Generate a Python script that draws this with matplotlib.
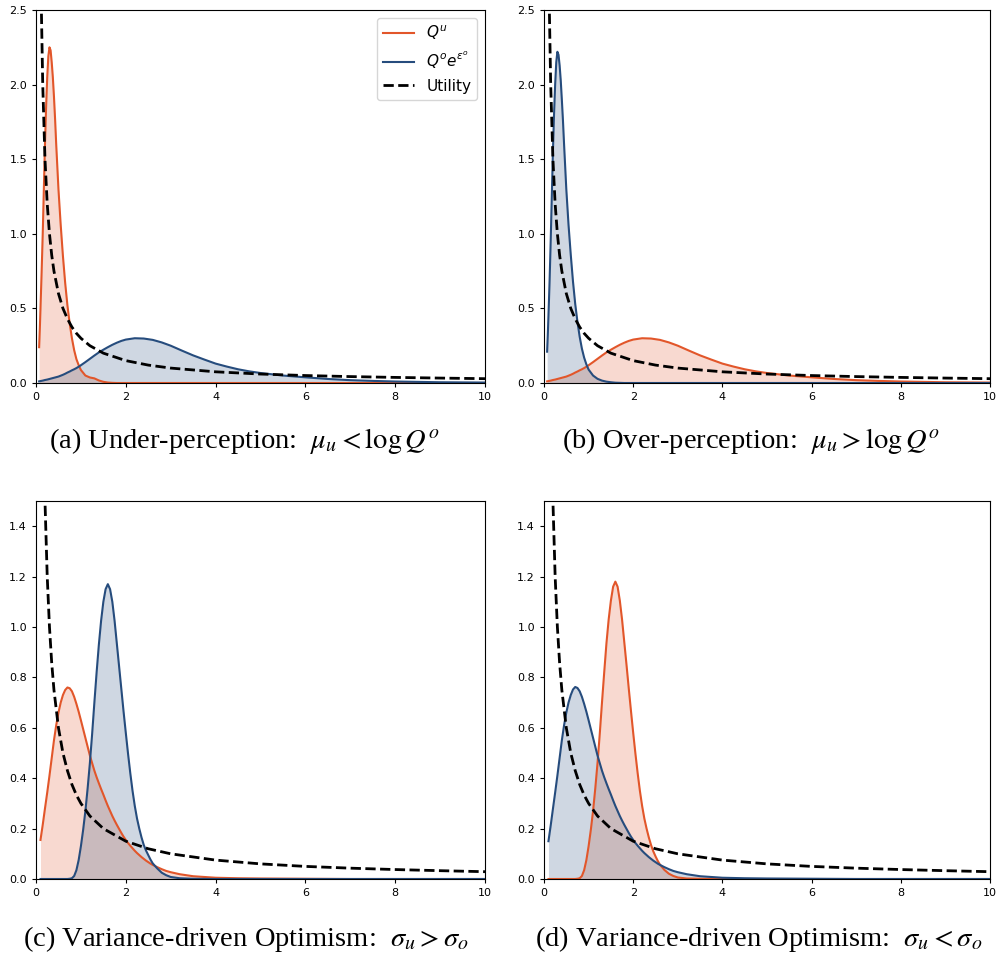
import matplotlib
matplotlib.use("Agg")
import matplotlib.pyplot as plt

# ---------------- data ----------------
x_top = [0.07, 0.085, 0.1, 0.125, 0.15, 0.175, 0.2, 0.225, 0.25, 0.275, 0.3, 0.325,
         0.35, 0.375, 0.4, 0.425, 0.45, 0.5, 0.55, 0.6, 0.65, 0.7, 0.75, 0.8, 0.85,
         0.9, 0.95, 1.0,
         1.1, 1.2, 1.3, 1.4, 1.5, 1.6, 1.7, 1.8, 1.9, 2.0,
         2.2, 2.4, 2.6, 2.8, 3.0,
         3.25, 3.5, 3.75, 4.0, 4.25, 4.5, 4.75, 5.0,
         5.5, 6.0, 6.5, 7.0, 7.5, 8.0, 9.0, 10.0]

a_qu = [0.24, 0.36, 0.5, 0.74, 1.0, 1.3, 1.6, 1.85, 2.05, 2.19, 2.25, 2.23,
        2.15, 2.05, 1.92, 1.77, 1.6, 1.3, 1.06, 0.85, 0.67, 0.52, 0.4, 0.3, 0.22,
        0.16, 0.12, 0.087,
        0.05, 0.037, 0.031, 0.017, 0.008, 0.003, 0.001, 0, 0, 0,
        0, 0, 0, 0, 0,
        0, 0, 0, 0, 0, 0, 0, 0,
        0, 0, 0, 0, 0, 0, 0, 0]
a_qo = [0.011, 0.012, 0.013, 0.0145, 0.016, 0.018, 0.02, 0.0215, 0.023, 0.025, 0.027,
        0.029, 0.031, 0.033, 0.035, 0.037, 0.039, 0.043, 0.049, 0.055, 0.062, 0.07,
        0.077, 0.085, 0.092, 0.1, 0.109, 0.119,
        0.14, 0.162, 0.184, 0.205, 0.223, 0.24, 0.256, 0.27, 0.282, 0.291,
        0.3, 0.298, 0.289, 0.272, 0.25,
        0.217, 0.185, 0.157, 0.13, 0.11, 0.092, 0.078, 0.067,
        0.05, 0.038, 0.027, 0.019, 0.014, 0.01, 0.005, 0.003]

b_qu = [0.011, 0.012, 0.013, 0.0145, 0.016, 0.018, 0.02, 0.0215, 0.023, 0.025, 0.027,
        0.029, 0.031, 0.033, 0.035, 0.037, 0.039, 0.043, 0.049, 0.055, 0.062, 0.07,
        0.077, 0.085, 0.092, 0.1, 0.109, 0.119,
        0.14, 0.162, 0.184, 0.205, 0.223, 0.24, 0.256, 0.27, 0.282, 0.291,
        0.3, 0.298, 0.289, 0.272, 0.25,
        0.217, 0.185, 0.157, 0.13, 0.11, 0.092, 0.078, 0.067,
        0.05, 0.038, 0.027, 0.019, 0.014, 0.01, 0.005, 0.003]
b_qo = [0.21, 0.32, 0.45, 0.68, 0.95, 1.25, 1.55, 1.8, 2.0, 2.15, 2.22, 2.2,
        2.13, 2.03, 1.9, 1.76, 1.6, 1.3, 1.06, 0.86, 0.68, 0.53, 0.41, 0.31, 0.23,
        0.17, 0.125, 0.09,
        0.05, 0.028, 0.016, 0.009, 0.005, 0.002, 0.001, 0, 0, 0,
        0, 0, 0, 0, 0,
        0, 0, 0, 0, 0, 0, 0, 0,
        0, 0, 0, 0, 0, 0, 0, 0]

x_bot = [0.1, 0.15, 0.2, 0.25, 0.3, 0.35, 0.4, 0.45, 0.5, 0.55, 0.6, 0.65, 0.7,
         0.75, 0.8, 0.85, 0.9, 0.95, 1.0, 1.05, 1.1, 1.15, 1.2, 1.25, 1.3, 1.35,
         1.4, 1.45, 1.5, 1.55, 1.6, 1.65, 1.7, 1.75, 1.8, 1.85, 1.9, 1.95, 2.0,
         2.05, 2.1, 2.15, 2.2, 2.25, 2.3, 2.35, 2.4, 2.45, 2.5, 2.55, 2.6,
         2.7, 2.8, 2.9, 3.0, 3.2, 3.5, 4.0, 4.5, 5.0, 6.0, 7.0, 8.0, 9.0, 10.0]

c_qu = [0.155, 0.215, 0.28, 0.343, 0.41, 0.48, 0.55, 0.61, 0.66, 0.70, 0.73, 0.75, 0.76,
        0.757, 0.745, 0.723, 0.695, 0.664, 0.63, 0.595, 0.56, 0.525, 0.49, 0.46, 0.43,
        0.404, 0.38, 0.357, 0.335, 0.312, 0.29, 0.27, 0.25, 0.232, 0.215, 0.199, 0.183,
        0.168, 0.155, 0.143, 0.132, 0.122, 0.112, 0.103, 0.095, 0.087, 0.08, 0.073,
        0.067, 0.061, 0.056,
        0.047, 0.039, 0.032, 0.027, 0.019, 0.011, 0.005, 0.003, 0.002, 0.001, 0, 0, 0, 0]
c_qo = [0, 0, 0, 0, 0, 0, 0, 0, 0, 0, 0, 0, 0,
        0.001, 0.003, 0.012, 0.035, 0.075, 0.13, 0.195, 0.27, 0.36, 0.46, 0.575, 0.7,
        0.82, 0.93, 1.025, 1.1, 1.15, 1.17, 1.15, 1.1, 1.025, 0.935, 0.845, 0.755,
        0.665, 0.58, 0.497, 0.42, 0.35, 0.29, 0.24, 0.2, 0.165, 0.135, 0.113, 0.095,
        0.077, 0.062,
        0.042, 0.025, 0.015, 0.008, 0.003, 0.001, 0, 0, 0, 0, 0, 0, 0, 0]

d_qu = [0, 0, 0, 0, 0, 0, 0, 0, 0, 0, 0, 0, 0,
        0.001, 0.003, 0.012, 0.035, 0.075, 0.13, 0.195, 0.27, 0.36, 0.46, 0.575, 0.7,
        0.82, 0.935, 1.03, 1.105, 1.16, 1.18, 1.16, 1.105, 1.03, 0.94, 0.85, 0.757,
        0.667, 0.58, 0.497, 0.42, 0.35, 0.29, 0.24, 0.2, 0.165, 0.135, 0.11, 0.09,
        0.072, 0.057,
        0.036, 0.021, 0.012, 0.006, 0.002, 0.001, 0, 0, 0, 0, 0, 0, 0, 0]
d_qo = [0.15, 0.212, 0.278, 0.343, 0.41, 0.48, 0.55, 0.61, 0.66, 0.70, 0.73, 0.752, 0.762,
        0.758, 0.745, 0.723, 0.695, 0.664, 0.63, 0.595, 0.56, 0.525, 0.49, 0.46, 0.43,
        0.404, 0.38, 0.357, 0.335, 0.312, 0.29, 0.27, 0.25, 0.232, 0.215, 0.199, 0.183,
        0.168, 0.155, 0.143, 0.132, 0.122, 0.112, 0.103, 0.095, 0.087, 0.08, 0.073,
        0.067, 0.061, 0.056,
        0.047, 0.039, 0.032, 0.027, 0.019, 0.011, 0.005, 0.003, 0.002, 0.001, 0, 0, 0, 0]

x_util = [0.1, 0.12, 0.15, 0.2, 0.25, 0.3, 0.35, 0.4, 0.5, 0.6, 0.7, 0.8, 0.9, 1.0,
          1.2, 1.5, 2.0, 2.5, 3.0, 4.0, 5.0, 6.0, 7.0, 8.0, 9.0, 10.0]
utility = [3.0, 2.5, 2.0, 1.5, 1.2, 1.0, 0.857, 0.75, 0.6, 0.5, 0.43, 0.375, 0.333,
           0.3, 0.25, 0.2, 0.15, 0.12, 0.1, 0.075, 0.06, 0.05, 0.043, 0.0375, 0.033,
           0.029]

x_ticks = [0, 2, 4, 6, 8, 10]
y_ticks_top = [0.0, 0.5, 1.0, 1.5, 2.0, 2.5]
y_ticks_bot = [0.0, 0.2, 0.4, 0.6, 0.8, 1.0, 1.2, 1.4]

captions = [r"(a) Under-perception:  $\mu_u < \log Q^o$",
            r"(b) Over-perception:  $\mu_u > \log Q^o$",
            r"(c) Variance-driven Optimism:  $\sigma_u > \sigma_o$",
            r"(d) Variance-driven Optimism:  $\sigma_u < \sigma_o$"]
legend_labels = [r"$Q^u$", r"$Q^o e^{\varepsilon^o}$", "Utility"]

# ---------------- styling ----------------
ORANGE = "#E2562A"
BLUE = "#264C7D"
W, H = 998, 958

fig = plt.figure(figsize=(W / 100, H / 100), dpi=100)

def rect(l, r, t, b):
    return [l / W, 1 - b / H, (r - l) / W, (b - t) / H]

panels = [
    (rect(36, 485, 10, 383), x_top, a_qu, a_qo, (0, 2.5), y_ticks_top, True),
    (rect(544, 990, 10, 383), x_top, b_qu, b_qo, (0, 2.5), y_ticks_top, False),
    (rect(36, 485, 501, 879), x_bot, c_qu, c_qo, (0, 1.5), y_ticks_bot, False),
    (rect(544, 990, 501, 879), x_bot, d_qu, d_qo, (0, 1.5), y_ticks_bot, False),
]

for pos, xs, qu, qo, ylim, yt, show_leg in panels:
    ax = fig.add_axes(pos)
    ax.plot(xs, qu, color=ORANGE, lw=1.5, label=legend_labels[0])
    ax.fill_between(xs, qu, color=ORANGE, alpha=0.22, lw=0)
    ax.plot(xs, qo, color=BLUE, lw=1.5, label=legend_labels[1])
    ax.fill_between(xs, qo, color=BLUE, alpha=0.22, lw=0)
    ax.plot(x_util, utility, color="black", ls="--", lw=2, label=legend_labels[2])
    ax.set_xlim(0, 10)
    ax.set_ylim(*ylim)
    ax.set_xticks(x_ticks)
    ax.set_yticks(yt)
    ax.set_yticklabels([f"{v:.1f}" for v in yt])
    ax.tick_params(labelsize=8, length=3)
    if show_leg:
        ax.legend(loc="upper right", fontsize=11, handlelength=2.0)

cap_pos = [(0.245, 1 - 441 / H), (0.752, 1 - 441 / H),
           (0.246, 1 - 939 / H), (0.76, 1 - 939 / H)]
for (cx, cy), txt in zip(cap_pos, captions):
    fig.text(cx, cy, txt, ha="center", va="center", fontsize=20.5,
             family="Liberation Serif", math_fontfamily="stix")

fig.savefig("out.png", dpi=100)
